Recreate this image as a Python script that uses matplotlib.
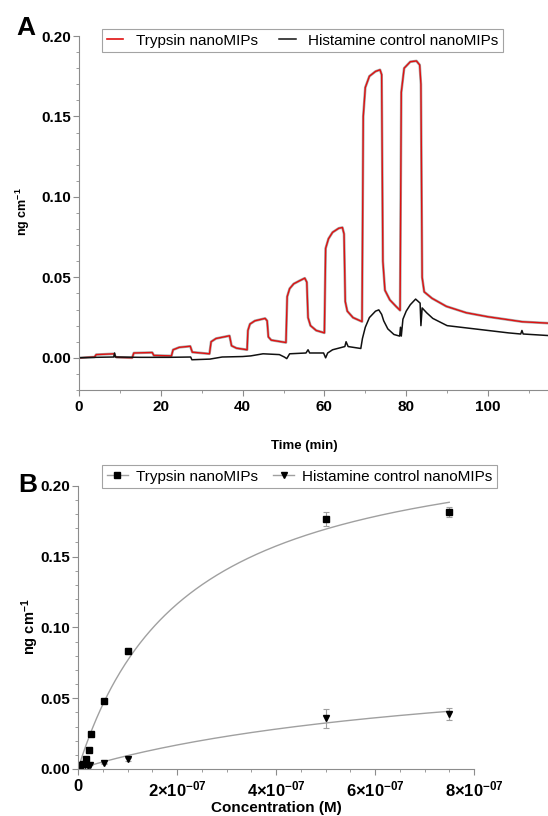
import numpy as np
import matplotlib
matplotlib.use("Agg")
import matplotlib.pyplot as plt
from matplotlib.lines import Line2D
from matplotlib.ticker import MultipleLocator, FuncFormatter

plt.rcParams['font.family'] = ['Liberation Sans', 'DejaVu Sans']
plt.rcParams['mathtext.fontset'] = 'custom'
plt.rcParams['mathtext.rm'] = 'Liberation Sans:bold'
plt.rcParams['mathtext.default'] = 'rm'

# ---- panel A: sensor traces (time in min, response in ng cm-1) ----
trypsin_t = [0, 3.8, 4.2, 8.6, 8.8, 9.2, 13.0, 13.4, 17.9, 18.3, 22.6, 23.0, 24.5, 27.2, 27.7,
             31.9, 32.3, 33.5, 36.8, 37.3, 38.5, 41.1, 41.3, 41.8, 43.0, 45.5, 46.0, 46.3,
             47.0, 50.6, 50.9, 51.5, 52.5, 54.0, 55.2, 55.7, 56.0, 56.6, 58.0, 60.0, 60.3,
             61.0, 62.0, 63.5, 64.4, 64.8, 65.1, 65.6, 67.0, 69.2, 69.5, 70.0, 71.0, 72.5,
             73.6, 74.0, 74.3, 74.8, 76.0, 77.5, 78.5, 78.8, 79.5, 81.0, 82.5, 83.3, 83.6,
             83.9, 84.4, 86.3, 89.8, 94.7, 100.0, 108.4, 115.0]
trypsin_v = [0.0, 0.0005, 0.002, 0.0025, 0.001, 0.0003, 0.0, 0.003, 0.0033, 0.0015, 0.0012,
             0.005, 0.0065, 0.0072, 0.0035, 0.0025, 0.010, 0.012, 0.0137, 0.0075, 0.006,
             0.005, 0.017, 0.021, 0.023, 0.0245, 0.023, 0.013, 0.011, 0.0095, 0.038, 0.043,
             0.046, 0.048, 0.0495, 0.047, 0.025, 0.020, 0.017, 0.0155, 0.068, 0.074, 0.078,
             0.0805, 0.081, 0.077, 0.035, 0.029, 0.025, 0.0225, 0.150, 0.168, 0.175, 0.178,
             0.179, 0.176, 0.060, 0.042, 0.036, 0.032, 0.0295, 0.165, 0.180, 0.184, 0.1845,
             0.182, 0.170, 0.050, 0.041, 0.037, 0.032, 0.028, 0.0255, 0.0224, 0.0215]

control_t = [0, 4, 8.5, 8.7, 8.9, 15, 22, 27.3, 27.6, 32, 35, 40, 42, 45, 49, 50.2, 50.8,
             51.5, 55.5, 56.0, 56.4, 59.8, 60.3, 60.8, 62, 65.0, 65.3, 65.8, 68.9, 69.3,
             70.0, 71.0, 72.5, 73.3, 74.0, 74.5, 75.5, 77.0, 78.4, 78.6, 78.8, 79.2, 80.0,
             81.0, 82.3, 83.4, 83.6, 83.9, 85.0, 86.5, 90.0, 95.0, 100.0, 105.0, 108.0,
             108.3, 108.6, 115.0]
control_v = [0.0, 0.0003, 0.0005, 0.003, 0.0005, 0.0003, 0.0003, 0.0005, -0.0012, -0.0008,
             0.0005, 0.0008, 0.0012, 0.0025, 0.002, 0.0005, -0.0005, 0.0025, 0.003, 0.005,
             0.003, 0.003, 0.0, 0.003, 0.005, 0.007, 0.010, 0.007, 0.0058, 0.012, 0.019,
             0.025, 0.029, 0.0298, 0.027, 0.023, 0.018, 0.0145, 0.0135, 0.019, 0.0135, 0.024,
             0.029, 0.033, 0.0365, 0.034, 0.020, 0.031, 0.028, 0.0245, 0.020, 0.0185, 0.017,
             0.0155, 0.0148, 0.017, 0.0148, 0.0138]

# ---- panel B: binding vs concentration ----
tryp_conc = [0.05e-7, 0.1e-7, 0.17e-7, 0.215e-7, 0.26e-7, 0.52e-7, 1.01e-7, 5.0e-7, 7.5e-7]
tryp_resp = [0.0028, 0.0033, 0.0068, 0.0134, 0.0247, 0.048, 0.0835, 0.1765, 0.1816]
tryp_err = [0.0005, 0.0005, 0.0005, 0.0005, 0.0008, 0.001, 0.002, 0.005, 0.0035]

hist_conc = [0.05e-7, 0.15e-7, 0.2e-7, 0.25e-7, 0.52e-7, 1.01e-7, 5.0e-7, 7.5e-7]
hist_resp = [0.002, 0.0025, 0.002, 0.003, 0.004, 0.0068, 0.0358, 0.0388]
hist_err = [0.0003, 0.0003, 0.0003, 0.0003, 0.0005, 0.001, 0.0066, 0.0042]

labels = ['Trypsin nanoMIPs', 'Histamine control nanoMIPs']


def one_site_fit(x, y):
    # y = Bmax*x/(Kd+x), least squares over a Kd grid
    x = np.asarray(x)
    y = np.asarray(y)
    best = None
    for kd in np.logspace(-9, -5, 4000):
        f = x / (kd + x)
        bmax = (y * f).sum() / (f * f).sum()
        sse = ((y - bmax * f) ** 2).sum()
        if best is None or sse < best[0]:
            best = (sse, bmax, kd)
    return best[1], best[2]


W, H = 548, 816
fig = plt.figure(figsize=(W / 100, H / 100), dpi=100)
grey = '#8c8c8c'


def style_axes(ax):
    for s in ['top', 'right']:
        ax.spines[s].set_visible(False)
    for s in ['left', 'bottom']:
        ax.spines[s].set_color(grey)
        ax.spines[s].set_linewidth(0.8)
    ax.tick_params(which='major', length=4, width=0.8, color=grey, labelsize=11)
    ax.tick_params(which='minor', length=2.5, width=0.6, color=grey)
    ax.tick_params(axis='y', which='major', pad=1.5)
    for lab in ax.get_xticklabels() + ax.get_yticklabels():
        lab.set_fontweight('bold')


# panel A
axA = fig.add_axes([79 / W, 1 - 390 / H, 469 / W, 354 / H])
axA.plot(trypsin_t, trypsin_v, color='#a8a8a8', lw=1.9, solid_joinstyle='round')
axA.plot(trypsin_t, trypsin_v, color='#e01010', lw=1.0, solid_joinstyle='round')
axA.plot(control_t, control_v, color='#111111', lw=1.1)
axA.set_xlim(0, 469 / 4.09)
axA.set_ylim(-0.02, 0.20)
axA.xaxis.set_major_locator(MultipleLocator(20))
axA.xaxis.set_minor_locator(MultipleLocator(10))
axA.yaxis.set_major_locator(MultipleLocator(0.05))
axA.yaxis.set_minor_locator(MultipleLocator(0.01))
axA.yaxis.set_major_formatter(FuncFormatter(lambda v, p: f'{v:.2f}'))
style_axes(axA)

hA = [Line2D([], [], color='#e01010', lw=1.2), Line2D([], [], color='#111111', lw=1.1)]
legA = fig.legend(hA, labels, loc='upper left', bbox_to_anchor=(102 / W, 1 - 29 / H),
                  ncol=2, frameon=True, fancybox=False, edgecolor=grey, fontsize=11,
                  handlelength=1.1, handletextpad=0.8, columnspacing=1.4,
                  borderpad=0.3, borderaxespad=0)
legA.get_frame().set_linewidth(0.8)

# panel B
axB = fig.add_axes([78 / W, 1 - 769 / H, 396 / W, 283.3 / H])
xs = np.linspace(0, max(tryp_conc), 300)
bt, kt = one_site_fit(tryp_conc, tryp_resp)
bh, kh = one_site_fit(hist_conc, hist_resp)
axB.plot(xs, bt * xs / (kt + xs), color='#a0a0a0', lw=1.0)
axB.plot(xs, bh * xs / (kh + xs), color='#a0a0a0', lw=1.0)
axB.errorbar(tryp_conc, tryp_resp, yerr=tryp_err, fmt='s', ms=5, color='black',
             ecolor='#a0a0a0', elinewidth=0.8, capsize=2, capthick=0.8)
axB.errorbar(hist_conc, hist_resp, yerr=hist_err, fmt='v', ms=5, color='black',
             ecolor='#a0a0a0', elinewidth=0.8, capsize=2, capthick=0.8)
axB.set_xlim(0, 8e-7)
axB.set_ylim(0, 0.20)
axB.xaxis.set_major_locator(MultipleLocator(2e-7))
axB.xaxis.set_minor_locator(MultipleLocator(0.5e-7))
axB.yaxis.set_major_locator(MultipleLocator(0.05))
axB.yaxis.set_minor_locator(MultipleLocator(0.01))
axB.yaxis.set_major_formatter(FuncFormatter(lambda v, p: f'{v:.2f}'))
axB.xaxis.set_major_formatter(FuncFormatter(
    lambda v, p: '0' if abs(v) < 1e-12 else r'$%d{\times}10^{-07}$' % round(v / 1e-7)))
style_axes(axB)
for lab in axB.get_xticklabels():
    lab.set_fontsize(12)

hB = [Line2D([], [], color='#a0a0a0', lw=1, marker='s', ms=5, mfc='k', mec='k'),
      Line2D([], [], color='#a0a0a0', lw=1, marker='v', ms=5, mfc='k', mec='k')]
legB = fig.legend(hB, labels, loc='upper left', bbox_to_anchor=(102 / W, 1 - 465 / H),
                  ncol=2, frameon=True, fancybox=False, edgecolor=grey, fontsize=11,
                  handlelength=1.4, handletextpad=0.5, columnspacing=1.0,
                  borderpad=0.3, borderaxespad=0)
legB.get_frame().set_linewidth(0.8)

# labels
fig.text(23 / W, 1 - 212 / H, r'ng cm$^{-1}$', rotation=90, ha='center', va='center',
         fontsize=9, fontweight='bold')
fig.text(30 / W, 1 - 627 / H, r'ng cm$^{-1}$', rotation=90, ha='center', va='center',
         fontsize=10.5, fontweight='bold')
fig.text(304 / W, 1 - 446 / H, 'Time (min)', ha='center', va='center', fontsize=9.5,
         fontweight='bold')
fig.text(276 / W, 1 - 808 / H, 'Concentration (M)', ha='center', va='center', fontsize=11,
         fontweight='bold')
fig.text(26 / W, 1 - 28 / H, 'A', ha='center', va='center', fontsize=19, fontweight='bold')
fig.text(28 / W, 1 - 485 / H, 'B', ha='center', va='center', fontsize=19, fontweight='bold')

fig.savefig('out.png', dpi=100)
